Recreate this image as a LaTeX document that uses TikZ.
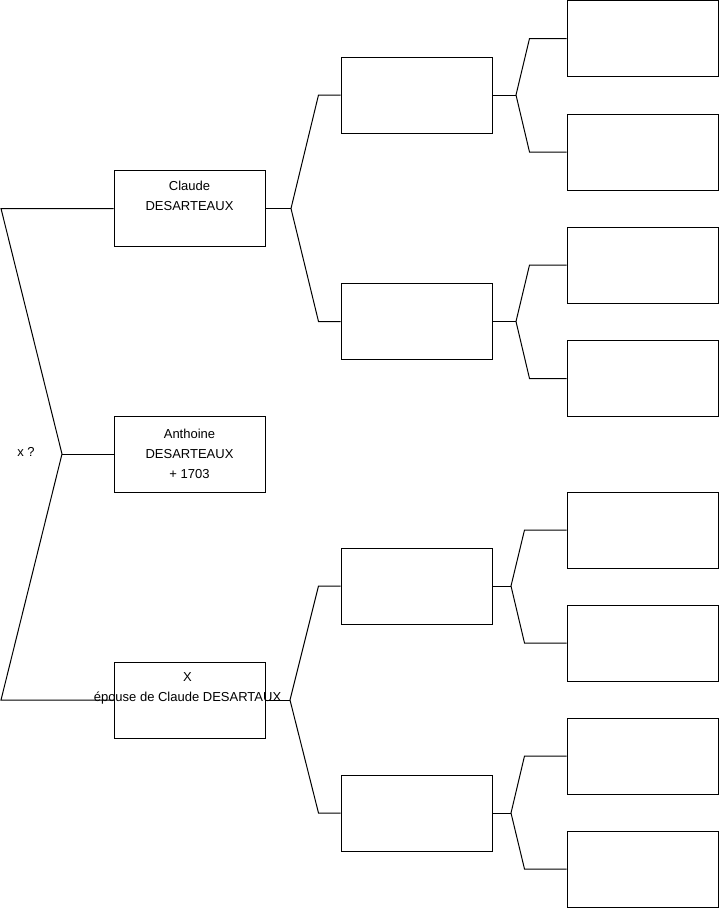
\documentclass[tikz,border=0pt]{standalone}
\usepackage{fontspec}
\setmainfont{Liberation Sans}
\usetikzlibrary{calc}
\begin{document}
\begin{tikzpicture}[x=1pt,y=-1pt,line width=1pt,
  box/.style={draw=black,minimum width=151pt,minimum height=76pt,inner sep=0pt},
  txt/.style={align=center,font=\fontsize{13pt}{20pt}\selectfont,inner sep=0pt},
  conn/.style={draw=black,line join=miter}]
\useasboundingbox[fill=white] (0,0) rectangle (719,908);
% generation 1
\node[box] (g1a) at (189.5,208.5) {};
\node[box] (g1b) at (189.5,454) {};
\node[box] (g1c) at (189.5,700) {};
% generation 2
\node[box] (g2a) at (416.5,95) {};
\node[box] (g2b) at (416.5,321.5) {};
\node[box] (g2c) at (416.5,586) {};
\node[box] (g2d) at (416.5,813) {};
% generation 3
\node[box] (g3a) at (642.5,38.5) {};
\node[box] (g3b) at (642.5,152) {};
\node[box] (g3c) at (642.5,265) {};
\node[box] (g3d) at (642.5,378.5) {};
\node[box] (g3e) at (642.5,530) {};
\node[box] (g3f) at (642.5,643) {};
\node[box] (g3g) at (642.5,756) {};
\node[box] (g3h) at (642.5,869) {};
% texts
\node[txt] (t1) at (g1a) {Claude\\DESARTEAUX\\\strut};
\node[txt] (t2) at (g1b) {Anthoine\\DESARTEAUX\\+ 1703};
\node[txt] (t3) at ($(g1c)+(-2,0)$) {X\\épouse de Claude DESARTAUX\\\strut};
\node[txt] (xq) at (26,452) {x ?};
% fork coordinates
\coordinate (L0) at (62,454);
\coordinate (Fa) at (291,208.5);
\coordinate (Fc) at (290,700);
\coordinate (Ga) at (516,95);
\coordinate (Gb) at (516,321.5);
\coordinate (Gc) at (511,586);
\coordinate (Gd) at (511,813);
% left bracket
\draw[conn] (g1a.west) -- ++(-112.5,0) -- (L0) -- ($(g1c.west)+(-112.5,0)$) -- (g1c.west);
\draw[conn] (L0) -- (g1b.west);
% generation 1 -> 2
\draw[conn] (g1a.east) -- (Fa);
\draw[conn] (g2a.west) -- ++(-22,0) -- (Fa) -- ($(g2b.west)+(-22,0)$) -- (g2b.west);
\draw[conn] (g1c.east) -- (Fc);
\draw[conn] (g2c.west) -- ++(-22,0) -- (Fc) -- ($(g2d.west)+(-22,0)$) -- (g2d.west);
% generation 2 -> 3
\draw[conn] (g2a.east) -- (Ga);
\draw[conn] (g3a.west) -- ++(-37,0) -- (Ga) -- ($(g3b.west)+(-37,0)$) -- (g3b.west);
\draw[conn] (g2b.east) -- (Gb);
\draw[conn] (g3c.west) -- ++(-37,0) -- (Gb) -- ($(g3d.west)+(-37,0)$) -- (g3d.west);
\draw[conn] (g2c.east) -- (Gc);
\draw[conn] (g3e.west) -- ++(-42,0) -- (Gc) -- ($(g3f.west)+(-42,0)$) -- (g3f.west);
\draw[conn] (g2d.east) -- (Gd);
\draw[conn] (g3g.west) -- ++(-42,0) -- (Gd) -- ($(g3h.west)+(-42,0)$) -- (g3h.west);
\end{tikzpicture}
\end{document}
